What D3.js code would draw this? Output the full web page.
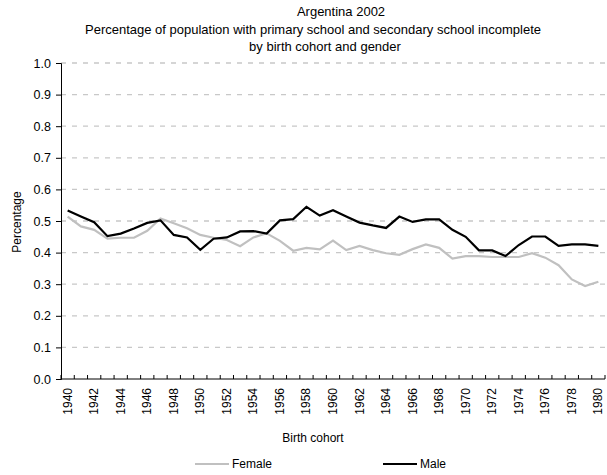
<!DOCTYPE html>
<html>
  <head>
    <title>Argentina 2002</title>
    <script src="https://d3js.org/d3.v7.min.js"></script>
  </head>
  <style>
    body { margin: 0; background: #fff; }
    text { font-family: "Liberation Sans", Arial, sans-serif; font-size: 12px; fill: #000; }
  </style>
  <body>
    <svg id="chart" width="607" height="475"></svg>
    <script>
      var years = d3.range(1940, 1981);
      var yTicks = [0, 0.1, 0.2, 0.3, 0.4, 0.5, 0.6, 0.7, 0.8, 0.9, 1.0];
      var female = [0.514, 0.483, 0.472, 0.444, 0.447, 0.447, 0.469, 0.508, 0.493, 0.477,
                    0.456, 0.447, 0.440, 0.420, 0.448, 0.461, 0.437, 0.406, 0.415, 0.410,
                    0.438, 0.408, 0.421, 0.408, 0.398, 0.393, 0.411, 0.426, 0.415, 0.381,
                    0.389, 0.389, 0.386, 0.386, 0.386, 0.398, 0.384, 0.360, 0.315, 0.294, 0.308];
      var male = [0.533, 0.514, 0.496, 0.452, 0.460, 0.476, 0.494, 0.502, 0.456, 0.448,
                  0.409, 0.444, 0.448, 0.467, 0.468, 0.460, 0.502, 0.506, 0.545, 0.517,
                  0.534, 0.514, 0.495, 0.486, 0.478, 0.514, 0.497, 0.505, 0.505, 0.472,
                  0.450, 0.407, 0.407, 0.389, 0.424, 0.451, 0.451, 0.421, 0.426, 0.426, 0.421];
      var titles = ["Argentina 2002",
                    "Percentage of population with primary school and secondary school incomplete",
                    "by birth cohort and gender"];

      var svg = d3.select("#chart");
      var pLeft = 61, pRight = 605, pTop = 63, pBottom = 379;

      var xScale = d3.scaleBand().domain(years).range([pLeft, pRight]);
      var yScale = d3.scaleLinear().domain([0, 1]).range([pBottom, pTop]);

      // titles
      var titleX = [341, 313, 325];
      svg.selectAll("text.title").data(titles).enter().append("text")
        .attr("class", "title")
        .attr("x", (d, i) => titleX[i]).attr("y", (d, i) => 16 + i * 17.5)
        .attr("text-anchor", "middle")
        .style("font-size", "13px")
        .text(d => d);

      // gridlines
      svg.append("g").selectAll("line").data(yTicks.slice(1)).enter().append("line")
        .attr("x1", pLeft).attr("x2", pRight)
        .attr("y1", d => yScale(d)).attr("y2", d => yScale(d))
        .attr("stroke", "#c8c8c8").attr("stroke-width", 1.3)
        .attr("stroke-dasharray", "5,6");

      // y axis
      var yAxis = d3.axisLeft(yScale).tickValues(yTicks).tickSize(5).tickFormat(d3.format(".1f"));
      var yG = svg.append("g").attr("transform", "translate(" + pLeft + ",0)").call(yAxis);
      yG.select(".domain").attr("stroke", "#000");
      yG.selectAll(".tick text").attr("x", -10).style("font-size", "12.5px")
        .style("font-family", "'Liberation Sans', Arial, sans-serif");

      // x axis: ticks between categories, pointing up
      var bounds = years.map(d => xScale(d)).concat([pRight]);
      var xG = svg.append("g");
      xG.append("line").attr("x1", pLeft).attr("x2", pRight).attr("y1", pBottom).attr("y2", pBottom).attr("stroke", "#000");
      xG.selectAll("line.tk").data(bounds).enter().append("line")
        .attr("class", "tk")
        .attr("x1", d => d).attr("x2", d => d)
        .attr("y1", pBottom).attr("y2", pBottom - 4)
        .attr("stroke", "#000");
      xG.selectAll("text").data(years.filter(d => d % 2 === 0)).enter().append("text")
        .attr("transform", d => "translate(" + (xScale(d) + xScale.bandwidth() / 2 + 4) + "," + (pBottom + 9) + ") rotate(-90)")
        .attr("text-anchor", "end")
        .text(d => d);

      // axis titles
      svg.append("text").attr("transform", "translate(21,222) rotate(-90)")
        .attr("text-anchor", "middle").text("Percentage");
      svg.append("text").attr("x", 313).attr("y", 442)
        .attr("text-anchor", "middle").text("Birth cohort");

      // lines
      var line = d3.line()
        .x((d, i) => xScale(years[i]) + xScale.bandwidth() / 2)
        .y(d => yScale(d));
      svg.append("path").attr("d", line(female))
        .attr("fill", "none").attr("stroke", "#c0c0c0").attr("stroke-width", 2.2);
      svg.append("path").attr("d", line(male))
        .attr("fill", "none").attr("stroke", "#000").attr("stroke-width", 2.2);

      // legend
      var legend = [{name: "Female", color: "#c0c0c0", x: 195}, {name: "Male", color: "#000", x: 383}];
      var lg = svg.selectAll("g.legend").data(legend).enter().append("g").attr("class", "legend");
      lg.append("line").attr("x1", d => d.x).attr("x2", d => d.x + 34)
        .attr("y1", 464).attr("y2", 464)
        .attr("stroke", d => d.color).attr("stroke-width", 2.2);
      lg.append("text").attr("x", d => d.x + 37).attr("y", 468).text(d => d.name);
    </script>
  </body>
</html>
